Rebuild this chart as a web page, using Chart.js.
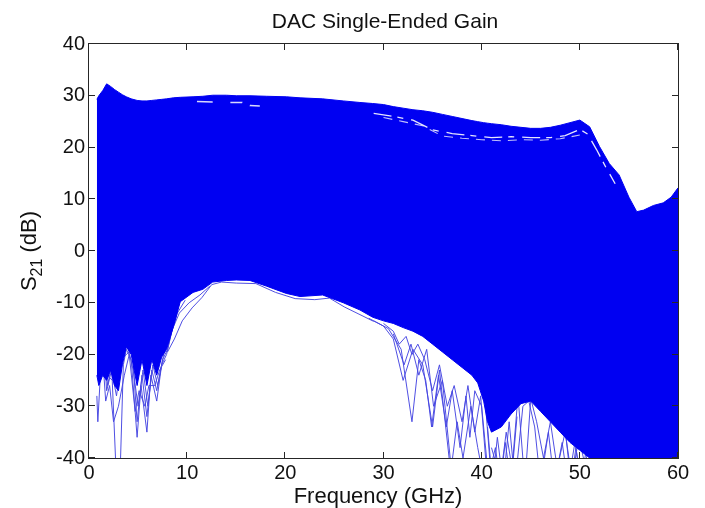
<!DOCTYPE html>
<html><head><meta charset="utf-8">
<script src="https://cdn.jsdelivr.net/npm/chart.js@4/dist/chart.umd.min.js"></script>
<style>html,body{margin:0;padding:0;background:#fff}canvas{display:block}</style>
</head><body>
<canvas id="c" width="705" height="508"></canvas>
<script>
// ---- data ----
const xTicks = [0, 10, 20, 30, 40, 50, 60];
const yTicks = [-40, -30, -20, -10, 0, 10, 20, 30, 40];

const freqEnv = [0.8, 1.0, 1.4, 1.8, 2.2, 2.6, 3.0, 3.4, 3.8, 4.3, 4.9, 5.4, 5.9, 6.4, 6.9, 7.4, 7.9, 8.6, 9.3, 10.6,
  11.6, 12.6, 14.0, 15.0, 16.4, 18.1, 20.1, 21.5, 23.8, 25.9, 27.6, 28.9, 30, 31, 32, 33, 34, 35, 36, 37,
  38, 39, 39.6, 40.2, 40.6, 41, 42, 43, 44, 45, 46, 47, 48, 49, 50, 51, 52, 53, 54, 55,
  55.8, 56.5, 57.5, 58.5, 59.3, 60];
const upperEnv = [29.3, 30.0, 31.0, 32.3, 31.8, 31.2, 30.7, 30.2, 29.8, 29.4, 29.1, 29.0, 29.0, 29.1, 29.2, 29.3, 29.4, 29.6, 29.7, 29.8,
  29.9, 30.1, 30.1, 30.0, 30.0, 29.9, 29.8, 29.6, 29.4, 29.0, 28.7, 28.5, 28.3, 27.9, 27.6, 27.3, 27.1, 26.8, 26.4, 26.0,
  25.6, 25.2, 25.0, 24.8, 24.7, 24.6, 24.4, 24.1, 23.9, 23.7, 23.7, 23.9, 24.3, 24.8, 25.3, 24.0, 20.2, 16.9, 14.7, 10.4,
  7.6, 7.9, 8.8, 9.3, 10.4, 12.2];
const lowerEnv = [-24, -26, -24, -25, -23, -26, -27, -22, -18.5, -20, -26, -21, -26, -21, -24, -20.5, -19, -14.6, -9.8, -8.0,
  -7.4, -6.0, -5.7, -5.6, -5.7, -6.8, -8.2, -8.8, -8.5, -10.0, -11.4, -12.8, -13.5, -14.0, -14.8, -15.5, -16.5, -18, -19.5, -21,
  -22.5, -24, -25.5, -29, -33, -35, -34, -31.5, -29.5, -29, -31, -33, -35, -37, -38.5, -40, -46, -46, -46, -46,
  -46, -46, -46, -46, -46, -46];

// individual traces that leave the dense band (low-frequency dips)
const trF1 = [0.8, 0.9, 1.1, 1.4, 1.6, 1.9, 2.3, 2.7, 2.9, 3.2, 3.5, 3.8, 4.3, 4.9, 5.3, 5.9, 6.3, 6.9, 7.4, 7.9, 8.5, 9.2];
const trV1 = [-28, -33, -26, -11, -20, -26, -22, -40, -46, -41, -22, -19, -21, -36, -26, -35, -24, -29, -22, -20, -15, -10];
const trF2 = [1.0, 1.4, 1.8, 2.3, 2.8, 3.3, 3.8, 4.4, 4.9, 5.4, 5.9, 6.4, 6.9, 7.5, 8.0, 8.6];
const trV2 = [-25, -15, -27, -23, -28, -21, -20, -19, -33, -24, -32, -23, -27, -21, -19, -14];
const trF3 = [1.2, 1.8, 2.4, 2.8, 3.2, 3.9, 4.5, 5.0, 5.5, 6.0, 6.5, 7.0, 7.6, 8.2, 9.0, 9.8];
const trV3 = [-20, -24, -25, -25, -22, -18, -23, -30, -23, -30, -22, -26, -20, -17, -12, -9.5];
const trF12 = [0.9, 1.3, 1.7, 2.1, 2.5, 3.0, 3.6, 4.1, 4.7, 5.1, 5.7, 6.1, 6.7, 7.2, 7.8];
const trV12 = [-22, -18, -29, -26, -33, -30, -24, -20, -31, -27, -30, -26, -26, -23, -21];
const trF4 = [8.0, 8.7, 9.5, 10.5, 11.5, 12.5, 13.5, 15, 17, 19, 21, 23, 24.5, 26, 27.5, 29];
const trV4 = [-19.5, -17, -13.5, -11, -9, -6.5, -6.0, -6.2, -6.3, -8, -9.2, -9.4, -9.1, -10.8, -12.2, -13.6];
const trF5 = [8.3, 9.2, 10.2, 11.3, 12.3];
const trV5 = [-16, -12, -10, -8.5, -6.8];
// mid-band traces (30-41 GHz)
const trF6 = [28.5, 30, 31, 32, 33, 34, 35, 35.7, 36.8];
const trV6 = [-13, -14.5, -17, -25, -19, -22, -34, -23, -42];
const trF7 = [29, 30.5, 31.8, 32.9, 33.6, 34.3, 34.9, 35.6, 36.4, 37.0, 37.8, 38.4, 38.8, 39.3, 40, 40.5];
const trV7 = [-13.5, -15, -19, -33, -21, -25, -34, -24, -34, -27, -38, -28, -36, -27, -30, -40];
const trF8 = [30, 31, 31.6, 32.3, 32.9, 33.5, 34.2, 35, 35.7, 36.5, 37.2, 38, 38.6, 39.3, 39.9, 40.4];
const trV8 = [-14, -15.5, -18, -16.5, -20, -18, -21, -27, -22, -30, -26, -33, -26, -35, -28, -40];
const trF9 = [31, 32.1, 32.8, 33.6, 34.4, 35.1, 36, 36.9, 37.5, 38.1, 38.9, 39.6, 40.3];
const trV9 = [-16, -22, -18, -24, -19, -30, -25, -42, -33, -40, -30, -38, -45];
// high-band traces (41-52 GHz)
const trF10 = [40.6, 41.1, 41.6, 42.2, 42.8, 43.4, 44.2, 44.8, 45.4, 46.0, 46.8, 47.4, 48.2, 48.8, 49.5, 50.2];
const trV10 = [-34, -45, -36, -45, -33, -45, -30, -29, -34, -45, -35, -45, -37, -45, -37, -45];
const trF11 = [41, 41.9, 42.5, 43.1, 43.7, 44.4, 45, 45.6, 46.3, 47, 47.7, 48.5, 49.2, 49.9, 50.6, 51.3];
const trV11 = [-38, -44, -35, -42, -28, -45, -28.5, -33, -40, -33, -42, -35, -44, -36, -42, -38];
const trF13 = [48.6, 49.1, 49.6, 50.1, 50.6, 51.1, 51.6];
const trV13 = [-36, -45, -38, -45, -39, -45, -41];
const trF14 = [40.4, 40.9, 41.4, 41.9, 42.4, 43.0, 43.6];
const trV14 = [-30, -42, -38, -45, -37, -45, -32];

// white gaps inside the top of the band
const whF1 = [11, 12.6];
const whV1 = [28.9, 28.8];
const whF2 = [14.4, 15.6, 16.4, 17.4];
const whV2 = [28.7, 28.7, 28.1, 28.0];
const whF3 = [29, 31, 33, 35, 37, 39, 41, 43, 45, 47, 48.5, 50, 50.8, 51.7, 52.7, 53.6];
const whV3 = [26.6, 26.0, 25.3, 23.4, 22.7, 22.3, 21.9, 22.1, 21.9, 21.9, 22.3, 23.5, 22.6, 19.6, 16.0, 13.0];
const whF4 = [30, 32, 34, 36, 38, 40, 42, 44, 46, 48, 50];
const whV4 = [25.8, 25.0, 24.2, 22.2, 21.8, 21.5, 21.3, 21.5, 21.4, 21.7, 22.4];

// ---- chart ----
const BLUE = '#0000f2';
const LINE = 'rgba(70,70,226,0.95)';
const FONT = '"Liberation Sans", Arial, Helvetica, sans-serif';
function pts(f, v) { return f.map((x, i) => ({ x: x, y: v[i] })); }

const traces = [[trF1, trV1], [trF2, trV2], [trF3, trV3], [trF12, trV12], [trF4, trV4], [trF5, trV5], [trF6, trV6], [trF7, trV7],
  [trF8, trV8], [trF9, trV9], [trF10, trV10], [trF11, trV11], [trF13, trV13], [trF14, trV14]];

const datasets = [
  { data: pts(freqEnv, upperEnv), borderColor: BLUE, backgroundColor: BLUE, borderWidth: 1, fill: '+1', order: 10 },
  { data: pts(freqEnv, lowerEnv), borderColor: BLUE, borderWidth: 1, fill: false, order: 10 }
];
traces.forEach(t => datasets.push({ data: pts(t[0], t[1]), borderColor: LINE, borderWidth: 1, fill: false, order: 20 }));
datasets.push({ data: pts(whF1, whV1), borderColor: 'rgba(255,255,255,0.85)', borderWidth: 1.5, fill: false, order: 0 });
datasets.push({ data: pts(whF2, whV2), borderColor: 'rgba(255,255,255,0.85)', borderWidth: 1.5, borderDash: [12, 8], fill: false, order: 0 });
datasets.push({ data: pts(whF3, whV3), borderColor: 'rgba(255,255,255,0.9)', borderWidth: 1.3, borderDash: [18, 6, 6, 8], fill: false, order: 0 });
datasets.push({ data: pts(whF4, whV4), borderColor: 'rgba(255,255,255,0.75)', borderWidth: 1.1, borderDash: [9, 7], fill: false, order: 0 });

const frame = {
  id: 'frame',
  afterDraw(chart) {
    const { ctx, chartArea: a, scales: { x, y } } = chart;
    ctx.save();
    ctx.strokeStyle = '#262626';
    ctx.lineWidth = 1;
    ctx.strokeRect(a.left - 0.5, a.top - 0.5, a.right - a.left + 1, a.bottom - a.top + 1);
    const L = 6;
    ctx.beginPath();
    xTicks.forEach(v => {
      const px = Math.round(x.getPixelForValue(v)) - 0.5;
      ctx.moveTo(px, a.bottom); ctx.lineTo(px, a.bottom - L);
      ctx.moveTo(px, a.top); ctx.lineTo(px, a.top + L);
    });
    yTicks.forEach(v => {
      const py = Math.round(y.getPixelForValue(v)) - 0.5;
      ctx.moveTo(a.left, py); ctx.lineTo(a.left + L, py);
      ctx.moveTo(a.right, py); ctx.lineTo(a.right - L, py);
    });
    ctx.stroke();
    // title
    ctx.fillStyle = '#111';
    ctx.textAlign = 'center';
    ctx.textBaseline = 'alphabetic';
    ctx.font = '21px ' + FONT;
    ctx.fillText('DAC Single-Ended Gain', 385, 28);
    // x label
    ctx.font = '22px ' + FONT;
    ctx.fillText('Frequency (GHz)', 378, 503);
    // y label with subscript
    ctx.translate(36, 251);
    ctx.rotate(-Math.PI / 2);
    const big = '22px ' + FONT, small = '16px ' + FONT;
    ctx.font = big; const wS = ctx.measureText('S').width; const wRest = ctx.measureText(' (dB)').width;
    ctx.font = small; const wSub = ctx.measureText('21').width;
    let sx = -(wS + wSub + wRest) / 2;
    ctx.textAlign = 'left';
    ctx.font = big; ctx.fillText('S', sx, 0); sx += wS;
    ctx.font = small; ctx.fillText('21', sx, 6); sx += wSub;
    ctx.font = big; ctx.fillText(' (dB)', sx, 0);
    ctx.restore();
  }
};

new Chart(document.getElementById('c'), {
  type: 'line',
  data: { datasets: datasets },
  options: {
    responsive: false,
    animation: false,
    devicePixelRatio: 1,
    layout: { padding: { left: 0, top: 44, right: 27, bottom: 0 } },
    elements: { point: { radius: 0 }, line: { tension: 0 } },
    plugins: { legend: { display: false }, tooltip: { enabled: false }, title: { display: false } },
    scales: {
      x: {
        type: 'linear', min: 0, max: 60,
        afterBuildTicks: s => { s.ticks = xTicks.map(v => ({ value: v })); },
        afterFit: s => { s.height = 50; },
        grid: { display: true, drawOnChartArea: false, drawTicks: false },
        border: { display: false },
        ticks: { padding: 3, color: '#111', font: { size: 20, family: FONT }, maxRotation: 0, autoSkip: false }
      },
      y: {
        type: 'linear', min: -40, max: 40,
        afterBuildTicks: s => { s.ticks = yTicks.map(v => ({ value: v })); },
        afterFit: s => { s.width = 89; },
        grid: { display: true, drawOnChartArea: false, drawTicks: false },
        border: { display: false },
        ticks: { padding: 4, color: '#111', font: { size: 20, family: FONT }, autoSkip: false }
      }
    }
  },
  plugins: [frame]
});
</script>
</body></html>
